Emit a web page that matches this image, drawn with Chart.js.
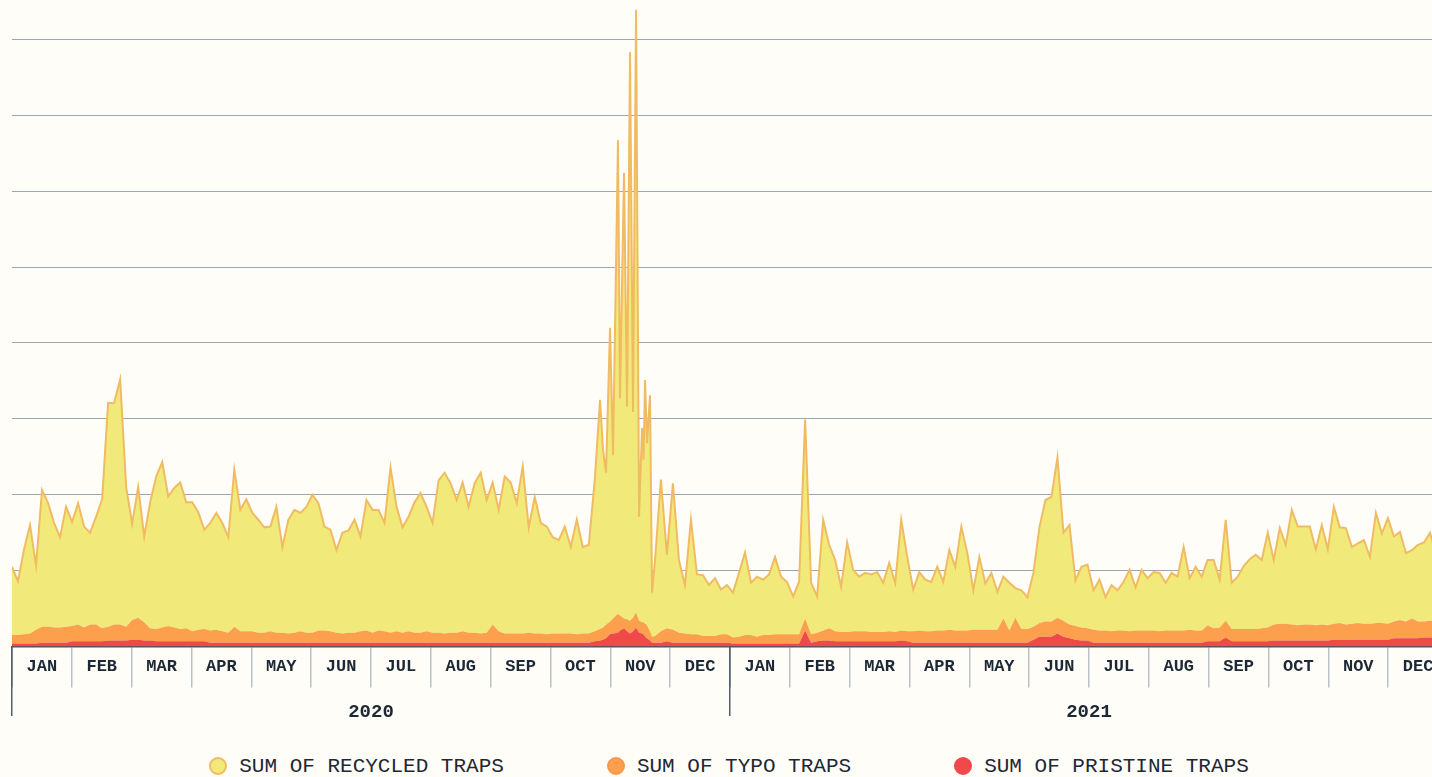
<!DOCTYPE html>
<html>
<head>
<meta charset="utf-8">
<script src="https://cdn.jsdelivr.net/npm/chart.js@4.4.1/dist/chart.umd.min.js"></script>
<style>
  html, body { margin: 0; padding: 0; background: #fffdf8; overflow: hidden; width: 1432px; height: 777px; }
  #wrap { position: absolute; left: 0; top: 0; width: 1460px; height: 730px; }
  #legend { position: absolute; left: 0; top: 753px; width: 1458px; display: flex; justify-content: center; gap: 103px;
            font-family: 'Liberation Mono', monospace; font-size: 21px; color: #1d2835; }
  .item { display: flex; align-items: center; height: 26px; white-space: pre; }
  .dot { width: 18px; height: 18px; border-radius: 50%; box-sizing: border-box; border: 2px solid; margin-right: 12px; }
</style>
</head>
<body>
<div id="wrap"><canvas id="chart"></canvas></div>
<div id="legend"></div>
<script>
const months = ['JAN', 'FEB', 'MAR', 'APR', 'MAY', 'JUN', 'JUL', 'AUG', 'SEP', 'OCT', 'NOV', 'DEC'];
const monthLabels = months.concat(months);
const years = ['2020', '2021'];
const seriesNames = ['SUM OF RECYCLED TRAPS', 'SUM OF TYPO TRAPS', 'SUM OF PRISTINE TRAPS'];

// ten readings per month, Jan 2020 .. Dec 2021
const recycled = [
  90, 71, 112, 143, 85, 180, 163, 138, 119, 158,
  137, 160, 133, 121, 142, 170, 295, 292, 323, 184,
  127, 172, 113, 166, 201, 218, 171, 184, 193, 166,
  170, 155, 131, 142, 154, 143, 126, 207, 160, 174,
  156, 149, 139, 138, 166, 113, 150, 162, 156, 166,
  182, 168, 137, 134, 109, 133, 135, 149, 125, 172,
  162, 159, 143, 218, 164, 139, 151, 172, 184, 164,
  145, 201, 212, 197, 175, 196, 166, 197, 212, 175,
  187, 160, 207, 199, 172, 220, 139, 180, 146, 142,
  127, 123, 141, 114, 151, 114, 117, 200, 299, 224,
  383, 625, 588, 750, 795, 294, 304, 61, 200, 97,
  193, 96, 64, 151, 79, 80, 67, 76, 59, 65,
  59, 84, 109, 69, 79, 73, 80, 102, 76, 69,
  50, 69, 262, 68, 48, 146, 110, 94, 60, 118,
  81, 72, 77, 76, 79, 65, 90, 65, 146, 98,
  55, 77, 68, 65, 84, 64, 105, 84, 137, 102,
  52, 96, 61, 75, 50, 55, 63, 39, 51, 42,
  71, 126, 160, 164, 211, 116, 131, 60, 80, 84,
  52, 67, 44, 61, 53, 64, 81, 57, 80, 69,
  77, 77, 63, 76, 71, 110, 68, 84, 71, 86,
  90, 63, 133, 61, 69, 83, 92, 98, 90, 125,
  85, 126, 104, 151, 130, 129, 129, 100, 131, 100,
  154, 126, 127, 101, 105, 110, 88, 145, 118, 139,
  112, 116, 90, 90, 101, 104, 116, 89, 93, 100
];
const typo = [
  11, 11, 12, 13, 18, 21, 21, 20, 20, 21,
  20, 22, 18, 22, 22, 17, 18, 21, 21, 18,
  26, 29, 24, 16, 16, 18, 20, 18, 16, 17,
  13, 15, 16, 16, 17, 15, 13, 21, 15, 15,
  15, 13, 13, 15, 13, 13, 12, 13, 15, 13,
  13, 16, 16, 15, 13, 12, 13, 13, 15, 16,
  13, 16, 15, 13, 15, 13, 15, 13, 13, 15,
  13, 13, 12, 13, 13, 15, 13, 13, 12, 13,
  24, 15, 12, 12, 12, 12, 13, 12, 12, 11,
  12, 12, 12, 12, 11, 12, 12, 13, 15, 18,
  17, 25, 13, 17, 20, 15, 17, 8, 15, 17,
  17, 13, 12, 11, 11, 9, 9, 9, 11, 11,
  8, 9, 11, 11, 9, 11, 11, 12, 12, 12,
  12, 12, 16, 11, 11, 13, 16, 13, 12, 12,
  13, 13, 13, 12, 12, 12, 13, 12, 13, 13,
  15, 16, 15, 15, 16, 16, 17, 16, 16, 16,
  17, 17, 17, 17, 17, 32, 16, 33, 18, 18,
  17, 18, 20, 20, 21, 21, 18, 18, 17, 16,
  17, 16, 16, 15, 16, 16, 15, 16, 16, 16,
  16, 15, 16, 16, 16, 16, 17, 16, 16, 21,
  17, 18, 22, 16, 16, 16, 16, 16, 17, 18,
  21, 22, 22, 21, 20, 21, 21, 20, 21, 20,
  21, 22, 20, 21, 22, 21, 21, 22, 22, 21,
  22, 24, 22, 26, 22, 21, 22, 22, 22, 22
];
const pristine = [
  4, 4, 4, 4, 4, 5, 5, 5, 5, 5,
  7, 7, 7, 7, 7, 7, 8, 8, 8, 8,
  9, 9, 8, 8, 7, 7, 7, 7, 7, 7,
  7, 7, 7, 5, 5, 5, 5, 5, 5, 5,
  5, 5, 5, 5, 5, 5, 5, 5, 5, 5,
  5, 5, 5, 5, 5, 5, 5, 5, 5, 5,
  5, 5, 5, 5, 5, 5, 5, 5, 5, 5,
  5, 5, 5, 5, 5, 5, 5, 5, 5, 5,
  5, 5, 5, 5, 5, 5, 5, 5, 5, 5,
  5, 5, 5, 5, 5, 5, 5, 7, 8, 11,
  17, 18, 24, 17, 25, 17, 11, 5, 5, 7,
  5, 5, 5, 5, 5, 5, 5, 5, 5, 5,
  4, 4, 4, 4, 4, 4, 4, 4, 4, 4,
  4, 4, 21, 5, 7, 8, 8, 7, 7, 7,
  7, 7, 7, 7, 7, 7, 7, 7, 8, 7,
  5, 5, 5, 5, 5, 5, 5, 5, 5, 5,
  5, 5, 5, 5, 5, 5, 5, 5, 5, 5,
  9, 13, 13, 13, 17, 13, 11, 9, 8, 8,
  5, 5, 5, 5, 5, 5, 5, 5, 5, 5,
  5, 5, 5, 5, 5, 5, 5, 5, 5, 7,
  7, 7, 12, 7, 7, 7, 7, 7, 7, 7,
  8, 8, 8, 8, 8, 8, 8, 8, 8, 8,
  9, 9, 9, 9, 9, 9, 9, 9, 9, 9,
  11, 11, 11, 11, 11, 12, 12, 12, 12, 12
];

// finer readings through the late Oct / Nov 2020 spikes (time in months from 1 Jan 2020)
const novTimes = [9.828, 9.878, 9.928, 9.995, 10.045, 10.128, 10.162, 10.229, 10.279, 10.329,
                  10.379, 10.430, 10.480, 10.530, 10.555, 10.580, 10.613, 10.663, 10.697, 10.747];
const novRecycled = [302, 234, 200, 387, 215, 624, 286, 587, 280, 749, 271, 794, 137, 256, 214, 321, 240, 311, 58, 100];
const novTypo = [15, 16, 18, 17, 20, 25, 20, 13, 16, 17, 18, 20, 16, 15, 16, 17, 17, 12, 8, 9];
const novPristine = [8, 9, 11, 16, 17, 18, 21, 24, 20, 17, 20, 25, 18, 17, 16, 13, 11, 8, 5, 5];

const baseTimes = recycled.map((_, i) => i * 24 / 239);
const novStart = novTimes[0];
const novEnd = novTimes[novTimes.length - 1];

function series(values, novValues) {
    const pts = values.map((v, i) => ({ x: baseTimes[i], y: v }));
    const before = pts.filter(p => p.x < novStart);
    const after = pts.filter(p => p.x > novEnd);
    const nov = novTimes.map((t, k) => ({ x: t, y: novValues[k] }));
    return before.concat(nov, after);
}

const ink = '#1d2835';
const darkRule = '#56606a';

function layer(label, points, fillColor, lineColor, lineWidth, fill) {
    return {
        label: label,
        data: points,
        backgroundColor: fillColor,
        borderColor: lineColor,
        borderWidth: lineWidth,
        pointRadius: 0,
        pointHoverRadius: 0,
        tension: 0,
        fill: fill
    };
}

const chart = new Chart(document.getElementById('chart').getContext('2d'), {
    type: 'line',
    data: {
        datasets: [
            layer(seriesNames[2], series(pristine, novPristine), '#f0494a', '#f0494a', 0, 'origin'),
            layer(seriesNames[1], series(typo, novTypo), '#fca04e', '#f7984a', 0, '-1'),
            layer(seriesNames[0], series(recycled, novRecycled), '#f1ea7b', '#f0bb62', 2, '-1')
        ]
    },
    options: {
        animation: false,
        responsive: true,
        maintainAspectRatio: false,
        layout: { padding: { left: 12, right: 12, top: 9, bottom: 83.5 } },
        plugins: { legend: { display: false }, tooltip: { enabled: false } },
        scales: {
            x: { type: 'linear', display: false, min: 0, max: 24 },
            y: {
                stacked: true,
                min: 0,
                max: 840,
                ticks: { display: false, stepSize: 100, includeBounds: false },
                border: { display: false },
                grid: {
                    drawTicks: false,
                    color: c => (c.tick && c.tick.value === 0) ? 'rgba(0,0,0,0)' : '#9ba6af',
                    lineWidth: 1
                }
            },
            // month row and year row hang below the zero line
            months: {
                type: 'category',
                axis: 'x',
                labels: monthLabels,
                position: { y: 0 },
                offset: true,
                grid: {
                    offset: true,
                    drawOnChartArea: false,
                    tickLength: 40,
                    color: c => c.index % 12 === 0 ? darkRule : '#bac2c8',
                    lineWidth: 1.5
                },
                border: { color: '#4b5560', width: 1.5 },
                ticks: {
                    autoSkip: false,
                    maxRotation: 0,
                    padding: -30,
                    color: ink,
                    font: { family: 'Liberation Mono', size: 17, weight: 'bold' }
                }
            },
            years: {
                type: 'category',
                axis: 'x',
                labels: years,
                position: { y: 0 },
                offset: true,
                grid: {
                    offset: true,
                    drawOnChartArea: false,
                    tickLength: 69,
                    color: darkRule,
                    lineWidth: 1.5
                },
                border: { display: false },
                ticks: {
                    maxRotation: 0,
                    padding: -15,
                    color: ink,
                    font: { family: 'Liberation Mono', size: 19, weight: 'bold' }
                }
            }
        }
    }
});

// legend drawn as html so the wide gaps between items do not eat chart height
const legendBox = document.getElementById('legend');
Chart.defaults.plugins.legend.labels.generateLabels(chart).reverse().forEach(item => {
    const el = document.createElement('div');
    el.className = 'item';
    const dot = document.createElement('span');
    dot.className = 'dot';
    dot.style.background = item.fillStyle;
    dot.style.borderColor = item.strokeStyle;
    el.appendChild(dot);
    el.appendChild(document.createTextNode(item.text));
    legendBox.appendChild(el);
});
</script>
</body>
</html>
